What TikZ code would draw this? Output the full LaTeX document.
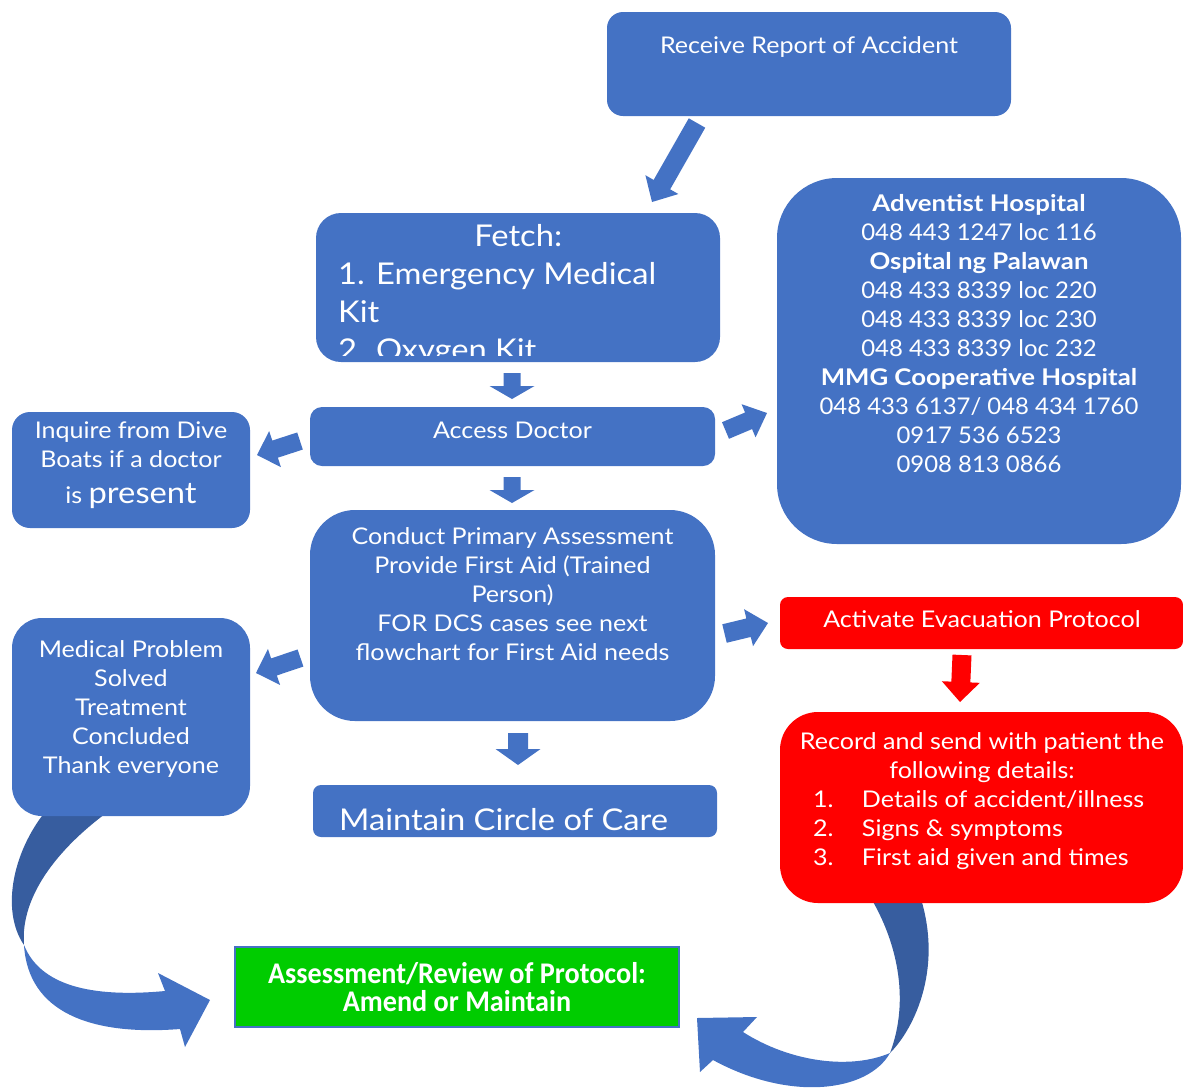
\documentclass[tikz,border=0pt]{standalone}
\usepackage{fontspec}
\setmainfont{Lato}[FakeStretch=1.09]
\newfontfamily\namefont{Lato}[FakeStretch=1.12]
\newfontfamily\numfont{Lato}[FakeStretch=1.04]
\newfontfamily\condfont{Carlito}[FakeStretch=0.94]
\usetikzlibrary{calc}

\definecolor{boxblue}{HTML}{4472C4}
\definecolor{ribbondark}{HTML}{375D9F}
\definecolor{alertred}{HTML}{FF0000}
\definecolor{okgreen}{HTML}{00CC00}

\tikzset{
  panel/.style={fill=boxblue, draw=none, inner sep=0pt},
  redpanel/.style={fill=alertred, draw=none, inner sep=0pt},
  boxtext/.style={text=white, inner sep=0pt, anchor=base},
  ribbon/.style={fill=boxblue, draw=none},
  ribbonback/.style={fill=ribbondark, draw=none},
}

% block arrow: tail, tip, shaft half width, head half width, head length, colour
\newcommand\blockarrow[6]{%
  \coordinate (ba) at ($(#2)!#5!(#1)$);
  \fill[#6] ($(#1)!#3!90:(#2)$) -- ($(ba)!#3!90:(#2)$) -- ($(ba)!#4!90:(#2)$)
     -- (#2) -- ($(ba)!#4!-90:(#2)$) -- ($(ba)!#3!-90:(#2)$) -- ($(#1)!#3!-90:(#2)$) -- cycle;
}
\newcommand\hname[1]{{\namefont\bfseries #1}}

\begin{document}
\begin{tikzpicture}[x=1pt,y=-1pt]
\useasboundingbox (0,0) rectangle (1183,1088);
\clip (0,0) rectangle (1183,1088);

% curved return arrows (twisted ribbons)
\fill[ribbonback] (50,806) .. controls (13,848) and (0,910) .. (24,945)
   .. controls (20,895) and (60,845) .. (116,806) -- cycle;
\fill[ribbon] (24,945) .. controls (40,985) and (90,998) .. (165,991) -- (158,973) -- (210,1000)
   -- (185,1047) -- (180,1029) .. controls (90,1036) and (28,1012) .. (24,945) -- cycle;

\fill[ribbonback] (866,890) .. controls (898,940) and (910,1000) .. (890,1053)
   .. controls (915,1028) and (945,965) .. (918,890) -- cycle;
\fill[ribbon] (890,1053) .. controls (850,1070) and (790,1062) .. (743,1032) -- (757,1017)
   -- (697,1018) -- (700,1072) -- (713,1060) .. controls (790,1102) and (868,1092) .. (890,1053) -- cycle;

% boxes
\node[panel, rounded corners=16pt, minimum width=404pt, minimum height=104pt] (recv) at (809,64) {};
\node[panel, rounded corners=25pt, minimum width=404pt, minimum height=149pt] (fetch) at (518,287.5) {};
\node[panel, rounded corners=12pt, minimum width=405pt, minimum height=59pt] (access) at (512.5,436.5) {};
\node[panel, rounded corners=18pt, minimum width=238pt, minimum height=116pt] (inquire) at (131,470) {};
\node[panel, rounded corners=60pt, minimum width=404pt, minimum height=366pt] (hosp) at (979,361) {};
\node[panel, rounded corners=45pt, minimum width=405pt, minimum height=211pt] (conduct) at (512.5,615.5) {};
\node[panel, rounded corners=30pt, minimum width=238pt, minimum height=198pt] (solved) at (131,717) {};
\node[panel, rounded corners=8pt, minimum width=404pt, minimum height=52pt] (circle) at (515,811) {};
\node[redpanel, rounded corners=8pt, minimum width=403pt, minimum height=52pt] (evac) at (981.5,623) {};
\node[redpanel, rounded corners=38pt, minimum width=403pt, minimum height=191pt] (record) at (981.5,807.5) {};
\node[fill=okgreen, draw=boxblue, line width=2pt, inner sep=0pt, minimum width=444pt, minimum height=80pt] (review) at (457,987) {};

% texts
\node[boxtext] (recvtext) at (809,53) {\parbox[t]{390pt}{\centering\fontsize{23}{29}\selectfont Receive Report of Accident}};

\begin{scope}
\clip (316,213) rectangle (720,355);
\node[boxtext, anchor=base west] (fetchtext) at (338,246) {\parbox[t]{360pt}{\fontsize{30}{38}\selectfont
  \centering Fetch:\par\raggedright 1. Emergency Medical\\Kit\\2. Oxygen Kit}};
\end{scope}

\node[boxtext] (accesstext) at (512.5,438) {\fontsize{23}{29}\selectfont Access Doctor};

\node[boxtext] (inquiretext) at (131,438) {\parbox[t]{234pt}{\centering\fontsize{23}{29}\selectfont
  Inquire from Dive\\Boats if a doctor\\[7pt]is {\fontsize{30}{36}\selectfont present}}};

\node[boxtext] (hosptext) at (979,211) {\parbox[t]{398pt}{\centering\numfont\fontsize{23}{29}\selectfont
  \hname{Adventist Hospital}\\048 443 1247 loc 116\\\hname{Ospital ng Palawan}\\
  048 433 8339 loc 220\\048 433 8339 loc 230\\048 433 8339 loc 232\\
  \hname{MMG Cooperative Hospital}\\048 433 6137/ 048 434 1760\\0917 536 6523\\0908 813 0866}};

\node[boxtext] (conducttext) at (512.5,544) {\parbox[t]{398pt}{\centering\fontsize{23}{29}\selectfont
  Conduct Primary Assessment\\Provide First Aid (Trained\\Person)\\FOR DCS cases see next\\flowchart for First Aid needs}};

\node[boxtext] (solvedtext) at (131,657) {\parbox[t]{234pt}{\centering\fontsize{23}{29}\selectfont
  Medical Problem\\Solved\\Treatment\\Concluded\\Thank everyone}};

\node[boxtext, anchor=base west] (circletext) at (339,830) {\fontsize{30}{36}\selectfont Maintain Circle of Care};

\node[boxtext] (evactext) at (982,627) {\fontsize{23}{29}\selectfont Activate Evacuation Protocol};

\node[boxtext] (recordtext) at (982,749) {\parbox[t]{390pt}{\fontsize{23}{29}\selectfont
  \centering Record and send with patient the\\following details:\par\raggedright
  \hspace*{26pt}\makebox[49pt][l]{1.}Details of accident/illness\\
  \hspace*{26pt}\makebox[49pt][l]{2.}Signs \& symptoms\\
  \hspace*{26pt}\makebox[49pt][l]{3.}First aid given and times}};

\node[boxtext] (reviewtext) at (457,983) {\parbox[t]{436pt}{\centering\condfont\bfseries\fontsize{30}{28}\selectfont
  Assessment/Review of Protocol:\\Amend or Maintain}};

% straight block arrows
\coordinate (r1) at (697,123);   \coordinate (f1) at (652,202);
\coordinate (f2) at (512,373);   \coordinate (a2) at (512,399);
\coordinate (a3) at (512,477);   \coordinate (c3) at (512,503);
\coordinate (c4) at (518,733);   \coordinate (m4) at (518,765);
\coordinate (a5) at (300,441);   \coordinate (i5) at (257,455);
\coordinate (c6) at (300.5,658); \coordinate (s6) at (256,673);
\coordinate (a7) at (725.5,430.5); \coordinate (h7) at (767,413);
\coordinate (c8) at (724.5,633.5); \coordinate (e8) at (768,623);
\coordinate (e9) at (962,655);   \coordinate (r9) at (960,702);

\blockarrow{r1}{f1}{9.5pt}{19pt}{20pt}{boxblue}
\blockarrow{f2}{a2}{8.5pt}{22.5pt}{13pt}{boxblue}
\blockarrow{a3}{c3}{8.5pt}{22.5pt}{13pt}{boxblue}
\blockarrow{c4}{m4}{10pt}{22.5pt}{16pt}{boxblue}
\blockarrow{a5}{i5}{9pt}{19pt}{19pt}{boxblue}
\blockarrow{c6}{s6}{9pt}{19pt}{19pt}{boxblue}
\blockarrow{a7}{h7}{9pt}{18pt}{20pt}{boxblue}
\blockarrow{c8}{e8}{9.5pt}{19pt}{20pt}{boxblue}
\blockarrow{e9}{r9}{9.5pt}{19pt}{20pt}{alertred}
\end{tikzpicture}
\end{document}
